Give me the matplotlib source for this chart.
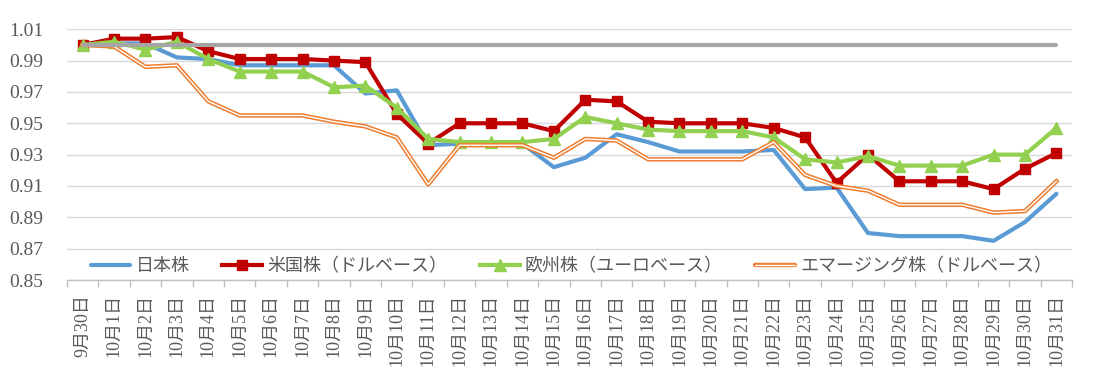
import matplotlib
matplotlib.use("Agg")
import matplotlib.pyplot as plt
from matplotlib.ticker import FixedLocator
from matplotlib.lines import Line2D
import numpy as np

categories = ["9月30日"] + [f"10月{d}日" for d in range(1, 32)]

japan = [1.000, 1.001, 1.001, 0.992, 0.991, 0.987, 0.987, 0.987, 0.987, 0.969,
         0.971, 0.936, 0.937, 0.937, 0.937, 0.922, 0.928, 0.943, 0.938, 0.932,
         0.932, 0.932, 0.933, 0.908, 0.909, 0.880, 0.878, 0.878, 0.878, 0.875,
         0.887, 0.905]
us = [1.000, 1.004, 1.004, 1.005, 0.996, 0.991, 0.991, 0.991, 0.990, 0.989,
      0.956, 0.937, 0.950, 0.950, 0.950, 0.945, 0.965, 0.964, 0.951, 0.950,
      0.950, 0.950, 0.947, 0.941, 0.912, 0.930, 0.913, 0.913, 0.913, 0.908,
      0.921, 0.931]
europe = [1.000, 1.002, 0.997, 1.002, 0.991, 0.983, 0.983, 0.983, 0.973, 0.974,
          0.960, 0.940, 0.938, 0.938, 0.938, 0.940, 0.954, 0.950, 0.946, 0.945,
          0.945, 0.945, 0.941, 0.927, 0.925, 0.929, 0.923, 0.923, 0.923, 0.930,
          0.930, 0.947]
emerging = [1.000, 0.999, 0.986, 0.987, 0.964, 0.955, 0.955, 0.955, 0.951, 0.948,
            0.941, 0.911, 0.936, 0.936, 0.936, 0.928, 0.940, 0.939, 0.927, 0.927,
            0.927, 0.927, 0.938, 0.917, 0.910, 0.907, 0.898, 0.898, 0.898, 0.893,
            0.894, 0.913]
baseline = [1.0] * len(categories)

series_names = ["日本株", "米国株（ドルベース）", "欧州株（ユーロベース）", "エマージング株（ドルベース）"]

yticks = [0.85, 0.87, 0.89, 0.91, 0.93, 0.95, 0.97, 0.99, 1.01]

TXT = "#595959"
fig = plt.figure(figsize=(10.94, 3.75), dpi=100)
ax = fig.add_axes([0.0612, 0.2533, 0.9188, 0.6687])

x = np.arange(len(categories))

l1, = ax.plot(x, japan, color="#5B9BD5", lw=3.0, solid_capstyle="round", zorder=3)
l2, = ax.plot(x, us, color="#C00000", lw=3.0, marker="s", markersize=7.5, zorder=4)
l3, = ax.plot(x, europe, color="#92D050", lw=3.0, marker="^", markersize=8.5, zorder=5)
ax.plot(x, emerging, color="#ED7D31", lw=3.2, zorder=6)
ax.plot(x, emerging, color="white", lw=1.0, zorder=6.5)
ax.plot(x, baseline, color="#A5A5A5", lw=3.0, solid_capstyle="round", zorder=7)


class DoubleLine:
    pass


class HandlerDouble:
    def legend_artist(self, legend, orig_handle, fontsize, handlebox):
        x0, y0 = handlebox.xdescent, handlebox.ydescent
        w, h = handlebox.width, handlebox.height
        a = Line2D([x0, x0 + w], [y0 + h / 2] * 2, color="#ED7D31", lw=3.2, solid_capstyle="round")
        b = Line2D([x0, x0 + w], [y0 + h / 2] * 2, color="white", lw=1.0, solid_capstyle="round")
        handlebox.add_artist(a)
        handlebox.add_artist(b)
        return a


dl = DoubleLine()
leg = ax.legend([l1, l2, l3, dl], series_names, ncol=4, frameon=False,
                loc="lower center", bbox_to_anchor=(0.502, -0.045),
                handler_map={DoubleLine: HandlerDouble()},
                prop={"family": ["Noto Sans CJK JP"], "size": 13},
                handlelength=2.2, columnspacing=1.8, handletextpad=0.3)
for t in leg.get_texts():
    t.set_color(TXT)
leg.set_zorder(10)

ax.set_xlim(-0.5, len(categories) - 0.5)
ax.set_ylim(0.85, 1.01)
ax.set_yticks(yticks)
ax.set_yticklabels([f"{v:.2f}" for v in yticks], family=["Liberation Serif"], fontsize=14, color=TXT)
ax.yaxis.grid(True, color="#D9D9D9", lw=1.0)
ax.set_axisbelow(True)
ax.tick_params(axis="y", length=0, pad=17)

ax.set_xticks(x)
ax.set_xticklabels(categories, rotation=90, family=["Liberation Serif", "Noto Sans CJK JP"],
                   fontsize=13, color=TXT, va="top", ha="center")
ax.xaxis.set_minor_locator(FixedLocator(np.arange(-0.5, len(categories), 1.0)))
ax.tick_params(axis="x", which="major", length=0, pad=10)
ax.tick_params(axis="x", which="minor", length=5, color="#BFBFBF", width=1)

for s in ["left", "right", "top"]:
    ax.spines[s].set_visible(False)
ax.spines["bottom"].set_color("#BFBFBF")
ax.spines["bottom"].set_linewidth(1.0)

fig.savefig("out.png", dpi=100)
